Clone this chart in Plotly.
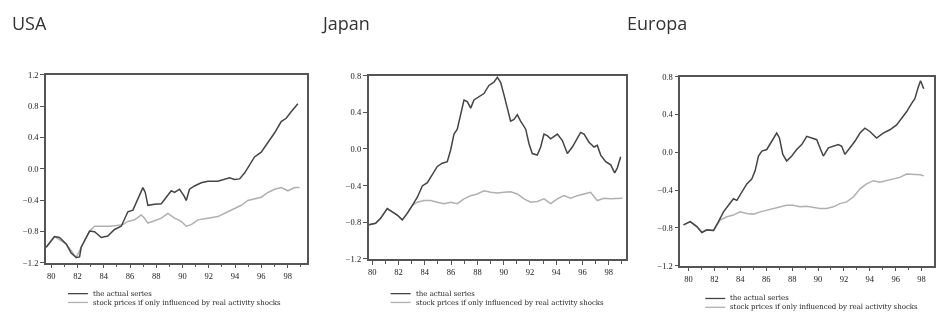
import plotly.graph_objects as go

# ---- data -------------------------------------------------------------
regions = ["USA", "Japan", "Europa"]
legend_labels = ["the actual series",
                 "stock prices if only influenced by real activity shocks"]

x_tick_vals = [1980, 1982, 1984, 1986, 1988, 1990, 1992, 1994, 1996, 1998]
x_tick_text = ["80", "82", "84", "86", "88", "90", "92", "94", "96", "98"]

usa_y_ticks = [-1.2, -0.8, -0.4, 0.0, 0.4, 0.8, 1.2]
jp_y_ticks = [-1.2, -0.8, -0.4, 0.0, 0.4, 0.8]
eu_y_ticks = [-1.2, -0.8, -0.4, 0.0, 0.4, 0.8]

usa_actual_t = [1979.62, 1980.25, 1980.63, 1981.14, 1981.52, 1981.90, 1982.16, 1982.28,
                1982.54, 1982.92, 1983.30, 1983.81, 1984.31, 1984.82, 1985.33, 1985.58,
                1985.84, 1986.22, 1986.60, 1986.98, 1987.16, 1987.36, 1987.87, 1988.38,
                1988.76, 1989.14, 1989.39, 1989.77, 1990.10, 1990.28, 1990.53, 1990.91,
                1991.42, 1991.93, 1992.69, 1993.20, 1993.58, 1993.96, 1994.34, 1994.72,
                1995.10, 1995.48, 1995.99, 1996.50, 1997.01, 1997.51, 1997.89, 1998.27,
                1998.78]
usa_actual = [-1.003, -0.867, -0.879, -0.961, -1.077, -1.134, -1.126, -1.003,
              -0.920, -0.797, -0.805, -0.879, -0.859, -0.776, -0.735, -0.653,
              -0.550, -0.529, -0.385, -0.241, -0.303, -0.467, -0.455, -0.447,
              -0.364, -0.282, -0.303, -0.262, -0.344, -0.406, -0.262, -0.220,
              -0.179, -0.159, -0.159, -0.138, -0.117, -0.138, -0.130, -0.056,
              0.047, 0.150, 0.212, 0.335, 0.459, 0.603, 0.644, 0.727,
              0.829]

usa_real_t = [1979.62, 1980.25, 1981.14, 1981.90, 1982.28, 1982.92, 1983.30, 1984.57,
              1985.46, 1985.84, 1986.35, 1986.85, 1987.11, 1987.36, 1987.87, 1988.38,
              1988.88, 1989.39, 1989.90, 1990.28, 1990.66, 1991.17, 1991.93, 1992.69,
              1993.45, 1993.96, 1994.47, 1994.97, 1995.48, 1995.99, 1996.50, 1997.01,
              1997.51, 1998.02, 1998.53, 1998.91]
usa_real = [-1.003, -0.867, -0.961, -1.134, -1.003, -0.797, -0.735, -0.735,
            -0.714, -0.673, -0.653, -0.591, -0.632, -0.694, -0.665, -0.632,
            -0.570, -0.632, -0.673, -0.735, -0.714, -0.653, -0.632, -0.611,
            -0.550, -0.509, -0.467, -0.406, -0.385, -0.364, -0.303, -0.262,
            -0.241, -0.282, -0.241, -0.241]

jp_actual_t = [1979.75, 1980.25, 1980.63, 1981.14, 1981.52, 1981.90, 1982.28, 1982.66,
               1983.05, 1983.43, 1983.81, 1984.19, 1984.57, 1984.95, 1985.33, 1985.71,
               1985.96, 1986.22, 1986.47, 1986.73, 1986.98, 1987.23, 1987.49, 1987.74,
               1988.12, 1988.50, 1988.88, 1989.26, 1989.52, 1989.77, 1990.03, 1990.28,
               1990.53, 1990.79, 1991.04, 1991.29, 1991.68, 1991.93, 1992.18, 1992.56,
               1992.82, 1993.07, 1993.32, 1993.58, 1994.09, 1994.47, 1994.85, 1995.23,
               1995.61, 1995.86, 1996.12, 1996.50, 1996.88, 1997.13, 1997.39, 1997.77,
               1998.15, 1998.45, 1998.65, 1998.91]
jp_actual = [-0.828, -0.811, -0.758, -0.651, -0.687, -0.722, -0.775, -0.704,
             -0.616, -0.527, -0.404, -0.368, -0.280, -0.191, -0.156, -0.138,
             -0.014, 0.163, 0.216, 0.393, 0.535, 0.517, 0.446, 0.535,
             0.570, 0.605, 0.694, 0.729, 0.782, 0.729, 0.588, 0.446,
             0.304, 0.322, 0.375, 0.304, 0.216, 0.057, -0.050, -0.067,
             0.021, 0.163, 0.145, 0.110, 0.163, 0.092, -0.050, 0.021,
             0.110, 0.181, 0.163, 0.074, 0.021, 0.039, -0.067, -0.138,
             -0.173, -0.262, -0.209, -0.085]

jp_real_t = [1979.75, 1980.25, 1980.63, 1981.14, 1981.52, 1981.90, 1982.28, 1982.66,
             1983.05, 1983.43, 1983.94, 1984.45, 1984.95, 1985.46, 1985.96, 1986.47,
             1986.98, 1987.49, 1987.99, 1988.50, 1989.01, 1989.52, 1990.03, 1990.53,
             1991.04, 1991.55, 1992.06, 1992.56, 1993.07, 1993.58, 1994.09, 1994.59,
             1995.10, 1995.61, 1996.12, 1996.62, 1997.13, 1997.64, 1998.15, 1999.04]
jp_real = [-0.828, -0.811, -0.758, -0.651, -0.687, -0.722, -0.775, -0.704,
           -0.616, -0.581, -0.563, -0.563, -0.581, -0.598, -0.581, -0.598,
           -0.545, -0.510, -0.492, -0.457, -0.474, -0.481, -0.474, -0.467,
           -0.492, -0.545, -0.581, -0.574, -0.545, -0.598, -0.545, -0.510,
           -0.538, -0.510, -0.492, -0.474, -0.563, -0.538, -0.545, -0.538]

eu_actual_t = [1979.61, 1980.13, 1980.64, 1981.03, 1981.41, 1981.93, 1982.31, 1982.70,
               1983.08, 1983.47, 1983.73, 1984.11, 1984.50, 1984.88, 1985.14, 1985.40,
               1985.66, 1986.04, 1986.43, 1986.81, 1987.02, 1987.28, 1987.58, 1987.97,
               1988.35, 1988.74, 1989.13, 1989.51, 1989.90, 1990.15, 1990.41, 1990.80,
               1991.18, 1991.57, 1991.83, 1992.08, 1992.47, 1992.85, 1993.24, 1993.62,
               1994.01, 1994.52, 1995.04, 1995.55, 1996.07, 1996.45, 1996.84, 1997.22,
               1997.48, 1997.74, 1997.92, 1998.17]
eu_actual = [-0.769, -0.735, -0.787, -0.849, -0.822, -0.828, -0.735, -0.631,
             -0.561, -0.492, -0.509, -0.422, -0.335, -0.283, -0.197, -0.040,
             0.012, 0.029, 0.116, 0.203, 0.151, -0.023, -0.092, -0.040,
             0.029, 0.081, 0.168, 0.151, 0.133, 0.047, -0.040, 0.047,
             0.064, 0.081, 0.064, -0.023, 0.047, 0.116, 0.203, 0.255,
             0.220, 0.151, 0.203, 0.238, 0.290, 0.359, 0.428, 0.515,
             0.567, 0.689, 0.758, 0.672]

eu_real_t = [1979.61, 1980.13, 1980.64, 1981.03, 1981.41, 1981.93, 1982.44, 1982.96,
             1983.47, 1983.98, 1984.50, 1985.01, 1985.53, 1986.04, 1986.56, 1987.07,
             1987.58, 1988.10, 1988.61, 1989.13, 1989.64, 1990.15, 1990.67, 1991.18,
             1991.70, 1992.21, 1992.73, 1993.24, 1993.75, 1994.27, 1994.78, 1995.30,
             1995.81, 1996.32, 1996.84, 1997.35, 1997.87, 1998.17]
eu_real = [-0.769, -0.735, -0.787, -0.849, -0.822, -0.828, -0.717, -0.683,
           -0.665, -0.631, -0.648, -0.655, -0.631, -0.613, -0.596, -0.578,
           -0.561, -0.561, -0.578, -0.572, -0.585, -0.596, -0.596, -0.578,
           -0.544, -0.526, -0.474, -0.388, -0.335, -0.301, -0.318, -0.301,
           -0.283, -0.266, -0.231, -0.231, -0.238, -0.249]

# ---- styling ------------------------------------------------------------
W, H = 946, 320
DARK = "#444444"
LIGHT = "#b0b0b0"
AXIS = "#555555"
TICK_FONT = dict(family="Liberation Serif", size=8.5, color="#222")
LEG_SIZE = 7
LEG_LINE = LEG_SIZE * 1.3          # plotly's multi-line text spacing

panels = [
    # (actual t, actual, real t, real, y ticks, x range, px box l, r, top, bottom)
    (usa_actual_t, usa_actual, usa_real_t, usa_real, usa_y_ticks,
     [1979.6, 1999.45], 45, 306, 72, 266),
    (jp_actual_t, jp_actual, jp_real_t, jp_real, jp_y_ticks,
     [1979.72, 1999.34], 368, 626, 73, 262),
    (eu_actual_t, eu_actual, eu_real_t, eu_real, eu_y_ticks,
     [1979.36, 1998.96], 680, 934, 74, 269),
]

# title and legend placement per panel (pixels)
title_x = [9, 318, 625]
legend_x = [67, 390, 705]
legend_mid = [302.5, 302.5, 307.5]

fig = go.Figure()
layout = dict(width=W, height=H, margin=dict(l=0, r=0, t=0, b=0),
              paper_bgcolor="white", plot_bgcolor="white", showlegend=False)

shapes, annotations = [], []

for i, (at, av, rt, rv, yt, xr, l, r, t, b) in enumerate(panels):
    n = "" if i == 0 else str(i + 1)
    fig.add_trace(go.Scatter(x=rt, y=rv, mode="lines", xaxis="x" + n, yaxis="y" + n,
                             line=dict(color=LIGHT, width=1.5), name=legend_labels[1]))
    fig.add_trace(go.Scatter(x=at, y=av, mode="lines", xaxis="x" + n, yaxis="y" + n,
                             line=dict(color=DARK, width=1.5), name=legend_labels[0]))

    layout["xaxis" + n] = dict(
        domain=[l / W, r / W], range=xr, anchor="y" + n,
        tickvals=x_tick_vals, ticktext=x_tick_text, ticks="outside", ticklen=4,
        tickcolor=AXIS, tickfont=TICK_FONT, showgrid=False, zeroline=False,
        showline=True, linecolor=AXIS, linewidth=1.5, mirror=True,
        minor=dict(dtick=1, tick0=1980, ticks="outside", ticklen=3, tickcolor=AXIS),
    )
    layout["yaxis" + n] = dict(
        domain=[1 - b / H, 1 - t / H], range=[yt[0], yt[-1]], anchor="x" + n,
        tickvals=yt, tickformat=".1f", ticks="outside", ticklen=4, tickcolor=AXIS,
        tickfont=TICK_FONT, showgrid=False, zeroline=False,
        showline=True, linecolor=AXIS, linewidth=1.5, mirror=True,
    )

    annotations.append(dict(text=regions[i], x=title_x[i] / W, y=1 - 19 / H,
                            xref="paper", yref="paper", xanchor="left", yanchor="middle",
                            showarrow=False,
                            font=dict(family="Open Sans", size=18, color="#333")))

    # two-row key below each panel: one text block, two sample strokes
    annotations.append(dict(text="<br>".join(legend_labels),
                            x=(legend_x[i] + 23) / W, y=1 - legend_mid[i] / H,
                            xref="paper", yref="paper", xanchor="left", yanchor="middle",
                            align="left", showarrow=False,
                            font=dict(family="DejaVu Serif", size=LEG_SIZE, color="#222")))
    for k, col in enumerate([DARK, LIGHT]):
        yy = 1 - (legend_mid[i] + (k - 0.5) * LEG_LINE) / H
        shapes.append(dict(type="line", xref="paper", yref="paper",
                           x0=legend_x[i] / W, x1=(legend_x[i] + 20) / W, y0=yy, y1=yy,
                           line=dict(color=col, width=1.3)))

layout["shapes"] = shapes
layout["annotations"] = annotations
fig.update_layout(**layout)

# The panels are printed-scan soft; the headings stay sharp.
soften = """
var gd = document.getElementById('{plot_id}');
var ns = 'http://www.w3.org/2000/svg';
var svg = gd.querySelector('svg.main-svg');
var defs = document.createElementNS(ns, 'defs');
var f = document.createElementNS(ns, 'filter');
f.setAttribute('id', 'soft-print');
f.setAttribute('filterUnits', 'userSpaceOnUse');
f.setAttribute('x', '0'); f.setAttribute('y', '0');
f.setAttribute('width', '946'); f.setAttribute('height', '320');
var g = document.createElementNS(ns, 'feGaussianBlur');
g.setAttribute('stdDeviation', '0.55');
f.appendChild(g); defs.appendChild(f); svg.appendChild(defs);
gd.querySelectorAll('.cartesianlayer, .layer-above').forEach(function (el) {
  el.setAttribute('filter', 'url(#soft-print)');
});
var heads = ['USA', 'Japan', 'Europa'];
gd.querySelectorAll('.annotation').forEach(function (el) {
  if (heads.indexOf(el.textContent.trim()) < 0) {
    el.setAttribute('filter', 'url(#soft-print)');
  }
});
"""

fig.write_html("out.html", post_script=soften)
